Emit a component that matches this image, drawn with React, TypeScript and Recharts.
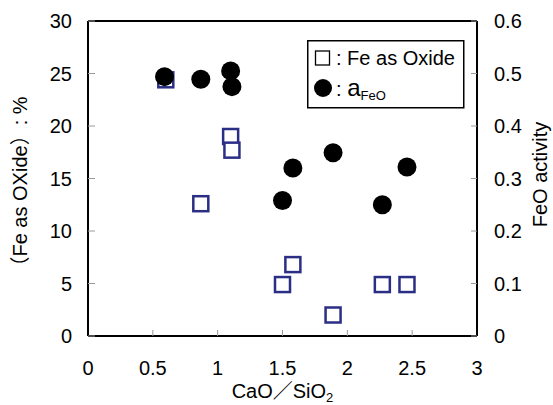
import {
  ScatterChart,
  Scatter,
  XAxis,
  YAxis,
  ReferenceLine,
  Legend,
  Label,
} from 'recharts';

// CaO/SiO2 ratio of each sample
const basicityOxide = [0.6, 0.87, 1.1, 1.11, 1.5, 1.58, 1.89, 2.27, 2.46];
const feAsOxide = [24.4, 12.6, 19.0, 17.7, 4.9, 6.8, 2.0, 4.9, 4.9];

const basicityAct = [0.59, 0.87, 1.1, 1.11, 1.5, 1.58, 1.89, 2.27, 2.46];
const feoActivity = [0.494, 0.489, 0.505, 0.475, 0.258, 0.32, 0.349, 0.25, 0.322];

const xTicks = [0, 0.5, 1, 1.5, 2, 2.5, 3];
const leftTicks = [0, 5, 10, 15, 20, 25, 30];
const rightTicks = [0, 0.1, 0.2, 0.3, 0.4, 0.5, 0.6];

const FONT = '"Liberation Sans", Arial, "Noto Sans CJK JP", sans-serif';
const NAVY = '#2b2e85';

const oxideData = basicityOxide.map((x, i) => ({ x, y: feAsOxide[i] }));
const activityData = basicityAct.map((x, i) => ({ x, y: feoActivity[i] }));

const SquareMark = (p: any) => (
  <rect x={p.cx - 7.5} y={p.cy - 7.5} width={15} height={15} fill="#fff" stroke={NAVY} strokeWidth={2.5} />
);
const DotMark = (p: any) => <circle cx={p.cx} cy={p.cy} r={9.5} fill="#000" />;

const tickStyle = { fontSize: 20, fill: '#000', fontFamily: FONT };
const axisLineStyle = { stroke: '#000', strokeWidth: 2 };
const tickLineStyle = { stroke: '#999', strokeWidth: 1 };

function LegendBox() {
  return (
    <svg width={158} height={69} style={{ display: 'block', fontFamily: FONT }}>
      <rect x={0.75} y={0.75} width={156} height={67} fill="#fff" stroke="#000" strokeWidth={1.5} />
      <rect x={8.5} y={11} width={14} height={14} fill="none" stroke="#000" strokeWidth={1.3} />
      <text x={29} y={25} fontSize={20} fill="#000">: Fe as Oxide</text>
      <circle cx={16} cy={48} r={9} fill="#000" />
      <text x={29} y={56} fontSize={20} fill="#000">
        : <tspan fontSize={24}>a</tspan>
        <tspan fontSize={13} dy={4}>FeO</tspan>
      </text>
    </svg>
  );
}

export default function App() {
  return (
    <div style={{ position: 'absolute', left: 0, top: 0, width: 553, height: 405, background: '#fff', fontFamily: FONT }}>
      <ScatterChart width={553} height={405} margin={{ top: 21, right: 0, bottom: 0, left: 0 }}>
        <XAxis
          type="number"
          dataKey="x"
          domain={[0, 3]}
          ticks={xTicks}
          height={69}
          tickSize={-6}
          tickMargin={31}
          tick={tickStyle}
          axisLine={axisLineStyle}
          tickLine={tickLineStyle}
        >
          <Label
            content={({ viewBox }: any) => (
              <text x={viewBox.x + viewBox.width / 2} y={viewBox.y + 62} textAnchor="middle" fontSize={20} fill="#000" fontFamily={FONT}>
                CaO／SiO<tspan fontSize={13} dy={4}>2</tspan>
              </text>
            )}
          />
        </XAxis>
        <YAxis
          yAxisId="left"
          type="number"
          dataKey="y"
          domain={[0, 30]}
          ticks={leftTicks}
          width={88}
          tickSize={-7}
          tickMargin={23}
          tick={tickStyle}
          axisLine={axisLineStyle}
          tickLine={tickLineStyle}
        >
          <Label
            content={({ viewBox }: any) => {
              const cx = viewBox.x + 20;
              const cy = viewBox.y + viewBox.height / 2 + 8;
              return (
                <text x={cx} y={cy} transform={`rotate(-90 ${cx} ${cy})`} textAnchor="middle" dominantBaseline="central" fontSize={20} fill="#000" fontFamily={FONT}>
                  （Fe as OXide）: %
                </text>
              );
            }}
          />
        </YAxis>
        <YAxis
          yAxisId="right"
          orientation="right"
          type="number"
          dataKey="y"
          domain={[0, 0.6]}
          ticks={rightTicks}
          width={76}
          tickSize={-6}
          tickMargin={23}
          tick={tickStyle}
          axisLine={axisLineStyle}
          tickLine={tickLineStyle}
        >
          <Label
            content={({ viewBox }: any) => {
              const cx = viewBox.x + 63;
              const cy = viewBox.y + viewBox.height / 2 - 4;
              return (
                <text x={cx} y={cy} transform={`rotate(-90 ${cx} ${cy})`} textAnchor="middle" dominantBaseline="central" fontSize={20} fill="#000" fontFamily={FONT}>
                  FeO activity
                </text>
              );
            }}
          />
        </YAxis>
        <ReferenceLine yAxisId="left" y={30} stroke="#000" strokeWidth={2} />
        <Scatter yAxisId="left" data={oxideData} shape={SquareMark} isAnimationActive={false} />
        <Scatter yAxisId="right" data={activityData} shape={DotMark} isAnimationActive={false} />
        <Legend
          layout="vertical"
          align="center"
          verticalAlign="middle"
          wrapperStyle={{ left: 307, top: 40, width: 158, height: 69 }}
          content={() => <LegendBox />}
        />
      </ScatterChart>
    </div>
  );
}
